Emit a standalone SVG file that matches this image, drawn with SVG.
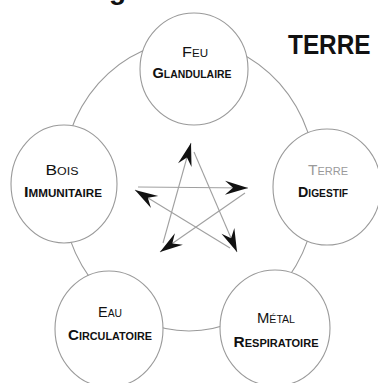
<svg xmlns="http://www.w3.org/2000/svg" width="378" height="383" viewBox="0 0 378 383">
<style>
.ring{fill:none;stroke:#9a9a9a;stroke-width:1.1}
.node{fill:#fff;stroke:#9a9a9a;stroke-width:1.1}
.t1{font-family:"Liberation Sans",Arial,sans-serif;font-size:14px;font-variant:small-caps;fill:#111;text-anchor:middle}
.t2{font-family:"Liberation Sans",Arial,sans-serif;font-size:14px;font-weight:bold;font-variant:small-caps;fill:#111;text-anchor:middle}
.grey{fill:#9a9a9a}
.star{stroke:#a0a0a0;stroke-width:1.1;fill:none;marker-end:url(#ah)}
</style>
<defs>
<marker id="ah" markerUnits="userSpaceOnUse" markerWidth="30" markerHeight="20" viewBox="-24 -10 26 20" refX="0" refY="0" orient="auto">
<path d="M0,0 L-23,-7 L-15,0 L-23,7 Z" fill="#111"/>
</marker>
</defs>
<rect width="378" height="383" fill="#fff"/>
<text x="109" y="-1" font-family="Liberation Sans,Arial,sans-serif" font-size="28" font-weight="bold" fill="#111">g</text>
<text transform="translate(288,54) scale(0.87,1)" x="0" y="0" font-family="Liberation Sans,Arial,sans-serif" font-size="28" font-weight="bold" fill="#111">TERRE</text>
<g id="connectors">
<ellipse class="ring" cx="189" cy="186" rx="128" ry="145"/>
<line class="star" x1="138" y1="187" x2="248" y2="188"/>
<line class="star" x1="245" y1="193" x2="160" y2="252"/>
<line class="star" x1="163" y1="243" x2="191" y2="143"/>
<line class="star" x1="194" y1="152" x2="237" y2="252"/>
<line class="star" x1="230" y1="248" x2="135" y2="190"/>
</g>
<g id="feu">
<ellipse class="node" cx="194" cy="69" rx="54" ry="56"/>
<text class="t1" x="195" y="57" textLength="26" lengthAdjust="spacingAndGlyphs">Feu</text>
<text class="t2" x="192" y="78" textLength="79" lengthAdjust="spacingAndGlyphs">Glandulaire</text>
</g>
<g id="bois">
<ellipse class="node" cx="64" cy="184" rx="53" ry="59"/>
<text class="t1" x="62" y="175" textLength="33" lengthAdjust="spacingAndGlyphs">Bois</text>
<text class="t2" x="63" y="197" textLength="78" lengthAdjust="spacingAndGlyphs">Immunitaire</text>
</g>
<g id="terre">
<ellipse class="node" cx="327" cy="187" rx="54" ry="58"/>
<text class="t1 grey" x="328" y="175" textLength="40" lengthAdjust="spacingAndGlyphs">Terre</text>
<text class="t2" x="323" y="197" textLength="50" lengthAdjust="spacingAndGlyphs">Digestif</text>
</g>
<g id="eau">
<ellipse class="node" cx="109" cy="329" rx="54" ry="58"/>
<text class="t1" x="110" y="317" textLength="24" lengthAdjust="spacingAndGlyphs">Eau</text>
<text class="t2" x="110" y="340" textLength="84" lengthAdjust="spacingAndGlyphs">Circulatoire</text>
</g>
<g id="metal">
<ellipse class="node" cx="275" cy="328" rx="55" ry="58"/>
<text class="t1" x="276" y="323" textLength="38" lengthAdjust="spacingAndGlyphs">Métal</text>
<text class="t2" x="276" y="347" textLength="85" lengthAdjust="spacingAndGlyphs">Respiratoire</text>
</g>
</svg>
